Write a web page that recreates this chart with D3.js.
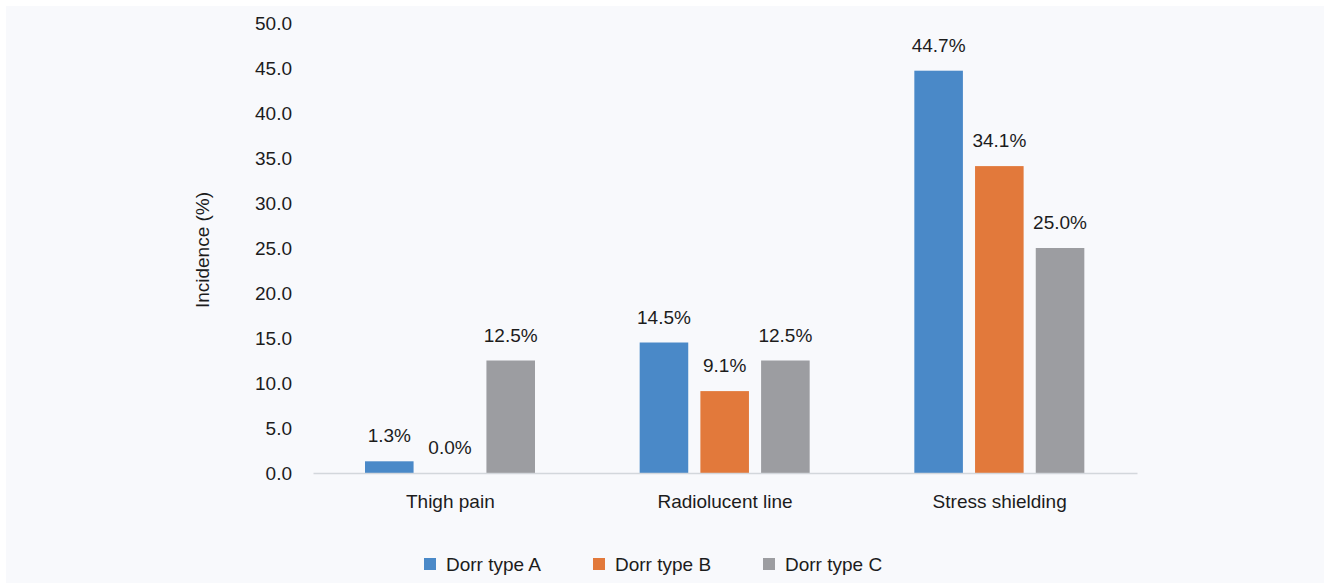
<!DOCTYPE html>
<html>
<head>
<meta charset="utf-8">
<script src="https://cdn.jsdelivr.net/npm/d3@7"></script>
<style>
  html, body { margin: 0; padding: 0; background: #ffffff; }
  svg { display: block; }
  text { font-family: "Liberation Sans", Arial, sans-serif; fill: #1c1c1c; }
</style>
</head>
<body>
<svg id="chart" width="1324" height="583"></svg>
<script>
const categories = ["Thigh pain", "Radiolucent line", "Stress shielding"];
const seriesNames = ["Dorr type A", "Dorr type B", "Dorr type C"];
const typeA = [1.3, 14.5, 44.7];
const typeB = [0.0, 9.1, 34.1];
const typeC = [12.5, 12.5, 25.0];
const yTicks = [0, 5, 10, 15, 20, 25, 30, 35, 40, 45, 50];
const colors = ["#4a89c8", "#e2793b", "#9c9da1"];

const seriesValues = [typeA, typeB, typeC];
const svg = d3.select("#chart");

// background
svg.append("rect").attr("x", 6).attr("y", 6).attr("width", 1318).attr("height", 577).attr("fill", "#f8f9fc");

const x0 = d3.scaleBand().domain(categories).range([313, 1137]).paddingInner(0).paddingOuter(0);
const x1 = d3.scaleBand().domain(seriesNames).range([52, 222]).paddingInner(0.2).paddingOuter(0);
const y = d3.scaleLinear().domain([0, 50]).range([473, 23]);

// y axis labels
const yAxis = d3.axisLeft(y).tickValues(yTicks).tickFormat(d3.format(".1f")).tickSize(0).tickPadding(21);
const gy = svg.append("g").attr("transform", "translate(313,0)").call(yAxis);
gy.select(".domain").remove();
gy.selectAll("text").style("font-size", "19px").style("font-family", "Liberation Sans, Arial, sans-serif").attr("fill", "#1c1c1c");

// y title
svg.append("text")
  .attr("transform", "translate(209,250) rotate(-90)")
  .attr("text-anchor", "middle")
  .style("font-size", "19px")
  .text("Incidence (%)");

// bars
const groups = svg.append("g").selectAll("g")
  .data(categories)
  .join("g")
  .attr("transform", d => `translate(${x0(d)},0)`);

groups.selectAll("rect")
  .data((c, ci) => seriesNames.map((s, si) => ({ s, si, v: seriesValues[si][ci] })))
  .join("rect")
  .attr("x", d => x1(d.s))
  .attr("y", d => y(d.v))
  .attr("width", x1.bandwidth())
  .attr("height", d => y(0) - y(d.v))
  .attr("fill", d => colors[d.si]);

groups.selectAll("text.val")
  .data((c, ci) => seriesNames.map((s, si) => ({ s, si, v: seriesValues[si][ci] })))
  .join("text")
  .attr("class", "val")
  .attr("x", d => x1(d.s) + x1.bandwidth() / 2)
  .attr("y", d => y(d.v) - 19)
  .attr("text-anchor", "middle")
  .style("font-size", "19px")
  .text(d => d3.format(".1f")(d.v) + "%");

// x axis
const xAxis = d3.axisBottom(x0).tickSize(0).tickPadding(22);
const gx = svg.append("g").attr("transform", "translate(0,473)").call(xAxis);
gx.select(".domain").attr("stroke", "#d3d7dc").attr("stroke-width", 1.6);
gx.selectAll("text").style("font-size", "19px").style("font-family", "Liberation Sans, Arial, sans-serif").attr("fill", "#1c1c1c");

// legend
const legendX = [424, 593, 763];
const lg = svg.append("g").selectAll("g")
  .data(seriesNames)
  .join("g")
  .attr("transform", (d, i) => `translate(${legendX[i]},558)`);
lg.append("rect").attr("width", 12).attr("height", 12).attr("fill", (d, i) => colors[i]);
lg.append("text").attr("x", 22).attr("y", 13).style("font-size", "19px").text(d => d);
</script>
</body>
</html>
